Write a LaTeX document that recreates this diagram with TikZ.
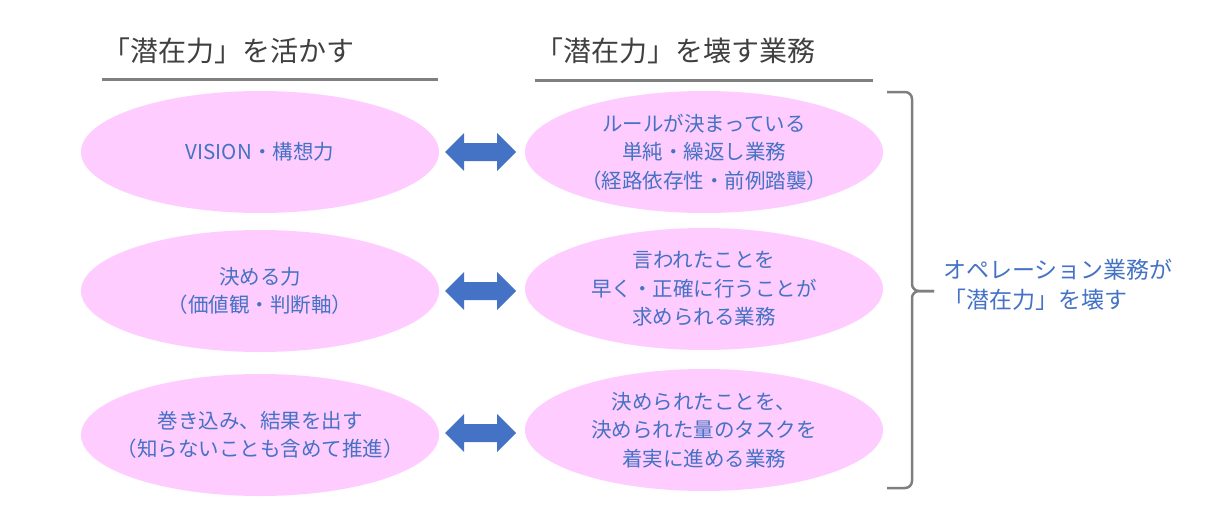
\documentclass[tikz,border=0pt]{standalone}
\usepackage{fontspec}
\setmainfont{Noto Sans CJK JP}
\usetikzlibrary{shapes.geometric,calc}
\definecolor{pinkfill}{HTML}{FFCCFF}
\definecolor{txtblue}{HTML}{4472C4}
\definecolor{headgray}{HTML}{404040}
\definecolor{linegray}{HTML}{7F7F7F}
\tikzset{
  oval/.style={ellipse, fill=pinkfill, draw=none, minimum width=358pt, minimum height=122pt, inner xsep=-40pt, inner ysep=0pt, align=center, text=txtblue, font=\fontsize{20.5}{28.5}\selectfont},
  header/.style={anchor=west, inner sep=0pt, text=headgray, font=\fontsize{28}{32}\selectfont},
  headline/.style={draw=linegray, line width=3pt},
  brace/.style={draw=linegray, line width=2.5pt, rounded corners=7pt},
  blockarrow/.style={fill=txtblue, draw=none},
}
\newcommand{\dblarrow}[1]{%
  \fill[blockarrow] (#1) -- ++(19,19) -- ++(0,-10) -- ++(33,0) -- ++(0,10) -- ++(19,-19) -- ++(-19,-19) -- ++(0,10) -- ++(-33,0) -- ++(0,-10) -- cycle;}
\begin{document}
\begin{tikzpicture}[x=1pt,y=-1pt]
\useasboundingbox (0,0) rectangle (1228,517);
% headers
\node[header] (h1) at (102,51) {「潜在力」を活かす};
\node[header] (h2) at (535,51) {「潜在力」を壊す業務};
\coordinate (u1a) at (102,79); \coordinate (u1b) at (438,79);
\coordinate (u2a) at (535,80); \coordinate (u2b) at (873,80);
\draw[headline] (u1a) -- (u1b);
\draw[headline] (u2a) -- (u2b);
% left ovals
\node[oval] (l1) at (260,152) {VISION・構想力};
\node[oval] (l2) at (260,291) {決める力\\（価値観・判断軸）};
\node[oval] (l3) at (260,435) {巻き込み、結果を出す\\（知らないことも含めて推進）};
% right ovals
\node[oval] (r1) at (704,152) {ルールが決まっている\\単純・繰返し業務\\（経路依存性・前例踏襲）};
\node[oval] (r2) at (704,289) {言われたことを\\早く・正確に行うことが\\求められる業務};
\node[oval] (r3) at (704,430) {決められたことを、\\決められた量のタスクを\\着実に進める業務};
% arrows
\coordinate (a1) at ($(l1.east)+(6,0)$);
\coordinate (a2) at ($(l2.east)+(6,0)$);
\coordinate (a3) at ($(l3.east)+(6,-2)$);
\dblarrow{a1}
\dblarrow{a2}
\dblarrow{a3}
% brace
\coordinate (bt) at (887,92);
\coordinate (bb) at (887,488);
\coordinate (bm) at (934,291);
\draw[brace] (bt) -- (912,92) -- (912,291) -- (bm);
\draw[brace] (bb) -- (912,488) -- (912,291) -- (bm);
% label
\node[anchor=west, inner sep=0pt, align=left, text=txtblue, font=\fontsize{23}{30}\selectfont] (lab) at (943,285) {オペレーション業務が\\「潜在力」を壊す};
\end{tikzpicture}
\end{document}
